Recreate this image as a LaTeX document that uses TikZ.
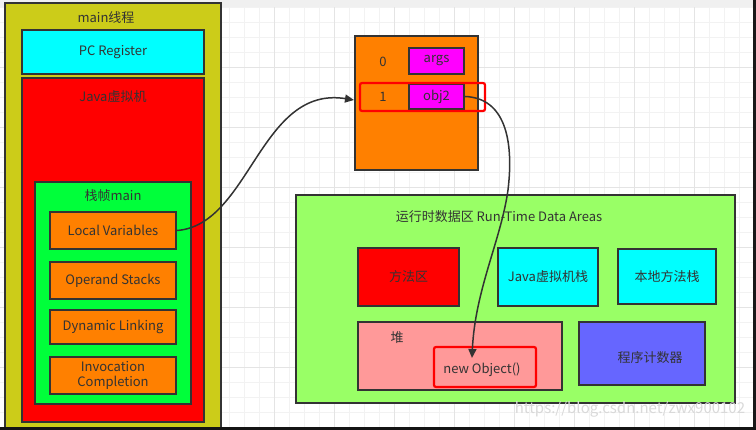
\documentclass[tikz,border=0pt]{standalone}
\usepackage{fontspec}
\newfontfamily\cjk{Noto Sans CJK SC}
\usetikzlibrary{arrows.meta,positioning}

\definecolor{threadyellow}{HTML}{CCCC19}
\definecolor{frameGreen}{HTML}{00FF3A}
\definecolor{areaGreen}{HTML}{99FF66}
\definecolor{heapPink}{HTML}{FF9999}
\definecolor{pcBlue}{HTML}{6666FF}
\definecolor{slotOrange}{HTML}{FF8000}
\definecolor{regCyan}{HTML}{00FFFF}
\definecolor{refMagenta}{HTML}{FF00FF}
\definecolor{linegray}{HTML}{333333}
\definecolor{gridminor}{HTML}{F2F2F2}
\definecolor{gridmajor}{HTML}{E4E4E4}

\begin{document}
\begin{tikzpicture}[
    x = 1pt, y = -1pt, % pixel units, y runs down
    > = {Triangle[length=9pt,width=8pt]}, % arrow head style
    font = \cjk\fontsize{13}{15}\selectfont,
    text = linegray
    ]

    \tikzset{box/.style={
    draw = linegray,
    line width = 2pt,
    inner sep = 0pt,
    align = center
    }}
    \tikzset{tag/.style={inner sep = 0pt}}
    \tikzset{hilite/.style={
    draw = red,
    line width = 2.2pt,
    rounded corners = 2pt,
    inner sep = 0pt
    }}
    \tikzset{ref/.style={->, draw = linegray, line width = 1.5pt}}

    % background grid
    \useasboundingbox (0,0) rectangle (756,430);
    \fill[white] (0,0) rectangle (756,430);
    \foreach \x in {4,19,...,754} \draw[gridminor, line width=0.8pt] (\x,7) -- (\x,427);
    \foreach \y in {7,22,...,427} \draw[gridminor, line width=0.8pt] (0,\y) -- (753,\y);
    \foreach \x in {34,94,...,754} \draw[gridmajor, line width=0.8pt] (\x,7) -- (\x,427);
    \foreach \y in {67,127,...,427} \draw[gridmajor, line width=0.8pt] (0,\y) -- (753,\y);
    \fill[black!6] (0,0) rectangle (756,7);

    % thread
    \node[box, fill=threadyellow, minimum width=216pt, minimum height=426pt] (thread) at (113,216) {};
    \node[tag] (threadlbl) at (106,18) {main线程};
    \node[box, fill=regCyan, minimum width=182pt, minimum height=44pt] (pcreg) at (113,52) {PC Register};
    \node[box, fill=red, minimum width=182pt, minimum height=344pt] (jvm) at (113,250) {};
    \node[tag] (jvmlbl) at (113,97) {Java虚拟机};
    \node[box, fill=frameGreen, minimum width=156pt, minimum height=222pt] (frame) at (113,293) {};
    \node[tag] (framelbl) at (113,196) {栈帧main};
    \node[box, fill=slotOrange, minimum width=126pt, minimum height=37pt] (locvars) at (113,230.5) {Local Variables};
    \node[box, fill=slotOrange, minimum width=126pt, minimum height=37pt] (opstack) [below=11pt of locvars] {Operand Stacks};
    \node[box, fill=slotOrange, minimum width=126pt, minimum height=34pt] (dynlink) [below=9pt of opstack] {Dynamic Linking};
    \node[box, fill=slotOrange, minimum width=126pt, minimum height=37pt] (invoc) [below=11pt of dynlink] {Invocation\\Completion};

    % local variable table
    \node[box, fill=slotOrange, minimum width=123pt, minimum height=134pt] (table) at (416.5,103) {};
    \node[tag] (idx0) at (383,62) {0};
    \node[box, fill=refMagenta, minimum width=55pt, minimum height=26pt] (args) at (436.5,61) {args};
    \node[tag] (idx1) at (383,97) {1};
    \node[box, fill=refMagenta, minimum width=55pt, minimum height=25pt] (obj2) at (436.5,96.5) {obj2};
    \node[hilite, minimum width=125pt, minimum height=28pt] (slot1) at (422.5,97) {};

    % run-time data areas
    \node[box, fill=areaGreen, minimum width=439pt, minimum height=208pt] (rtda) at (515.5,299) {};
    \node[tag] (rtdalbl) at (499,217) {运行时数据区 Run-Time Data Areas};
    \node[box, fill=red, minimum width=101pt, minimum height=58pt] (method) at (408.5,277) {方法区};
    \node[box, fill=regCyan, minimum width=100pt, minimum height=58pt] (jvmstack) at (548,277) {Java虚拟机栈};
    \node[box, fill=regCyan, minimum width=98pt, minimum height=55pt] (native) at (667,276.5) {本地方法栈};
    \node[box, fill=heapPink, minimum width=204pt, minimum height=68pt] (heap) at (460,356) {};
    \node[tag] (heaplbl) at (397,338) {堆};
    \node[hilite, minimum width=102pt, minimum height=40pt] (newobj) at (485,367) {};
    \node[tag] (newobjlbl) at (482,370) {new Object()};
    \node[box, fill=pcBlue, minimum width=126pt, minimum height=63pt] (pccount) at (642,353.5) {};
    \node[tag] (pccountlbl) at (650,358) {程序计数器};

    % references
    \coordinate (objref) at (472,358);
    \draw[ref] (locvars.east) .. controls (250,225) and (260,85) .. ([yshift=3pt]table.west);
    \draw[ref] (obj2.east) .. controls (505,98) and (514,140) .. (508,190)
    .. controls (501,240) and (475,290) .. (objref);

    % watermark and window edges
    \node[tag, text=gray!30, font=\cjk\fontsize{15}{17}\selectfont] (mark) at (630,409) {https://blog.csdn.net/zwx900102};
    \fill[black!90] (753,0) rectangle (756,430);
    \fill[black!92] (0,427) rectangle (756,430);
\end{tikzpicture}
\end{document}
